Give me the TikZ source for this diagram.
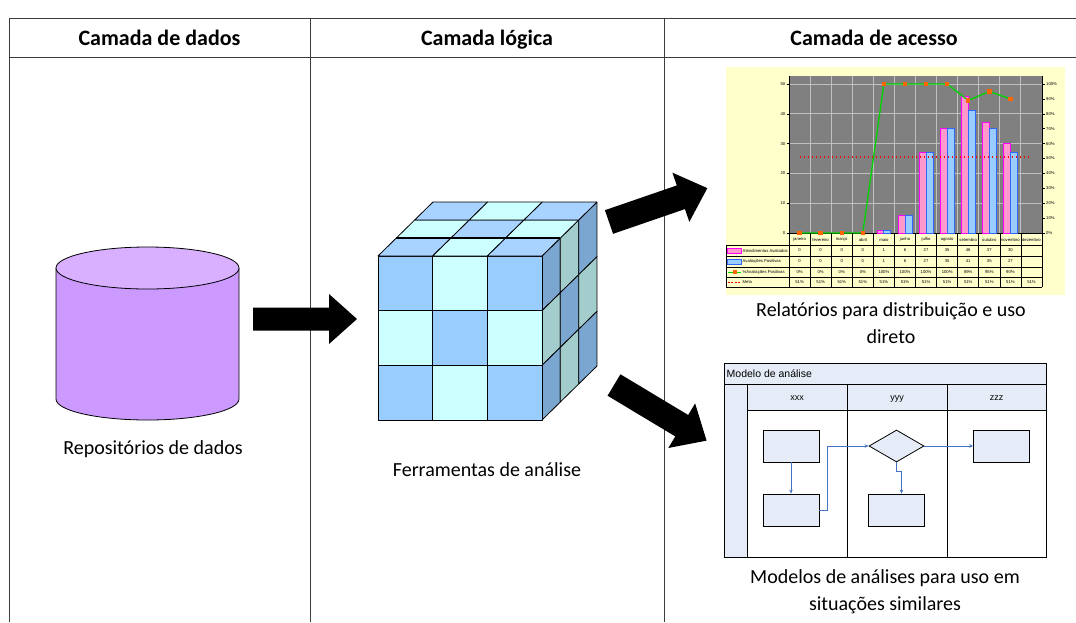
\documentclass[tikz,border=0pt]{standalone}
\usepackage{fontspec}
\setmainfont{Carlito}
\newfontfamily\chartfont{Liberation Sans}
\usetikzlibrary{shapes.geometric,arrows.meta}

\definecolor{cylbody}{RGB}{204,153,255}
\definecolor{cyltop}{RGB}{216,176,255}
\definecolor{cubeblue}{RGB}{153,204,255}
\definecolor{cubecyan}{RGB}{204,255,255}
\definecolor{topblue}{RGB}{168,210,255}
\definecolor{sidedark}{RGB}{122,166,208}
\definecolor{sideteal}{RGB}{163,204,204}
\definecolor{chartbg}{RGB}{255,255,204}
\definecolor{plotgray}{RGB}{128,128,128}
\definecolor{gridgray}{RGB}{192,192,192}
\definecolor{barpink}{RGB}{255,153,204}
\definecolor{barpinkedge}{RGB}{255,0,255}
\definecolor{barblue}{RGB}{153,204,255}
\definecolor{barblueedge}{RGB}{51,102,255}
\definecolor{pctgreen}{RGB}{0,210,0}
\definecolor{markorange}{RGB}{255,102,0}
\definecolor{swimfill}{RGB}{230,236,247}
\definecolor{flowblue}{RGB}{68,114,196}
\definecolor{framegray}{RGB}{60,60,60}

\tikzset{
  frame/.style={draw=framegray,line width=0.8pt},
  head/.style={font=\fontsize{22}{26}\selectfont\bfseries,inner sep=0pt,anchor=base},
  body/.style={font=\fontsize{20}{27}\selectfont,align=center,inner sep=0pt},
  blockarrow/.style={fill=black},
  cubeline/.style={draw=black,line width=0.8pt,line join=round},
  tinytext/.style={font=\chartfont\fontsize{4.2}{5}\selectfont,inner sep=0pt},
  pinkbar/.style={fill=barpink,draw=barpinkedge,line width=0.8pt},
  bluebar/.style={fill=barblue,draw=barblueedge,line width=0.8pt},
  pctline/.style={draw=pctgreen,line width=1.3pt,line join=round},
  metaline/.style={draw=red,line width=1.4pt,dash pattern=on 1.4pt off 2.6pt},
  tablerule/.style={draw=black,line width=0.6pt},
  swim/.style={draw=black,line width=0.9pt},
  fbox/.style={draw=black,line width=0.8pt,fill=swimfill,minimum width=56pt,minimum height=32pt,inner sep=0pt},
  fdiamond/.style={diamond,draw=black,line width=0.8pt,fill=swimfill,aspect=1.72,minimum width=55pt,minimum height=32pt,inner sep=0pt},
  flow/.style={draw=flowblue,line width=0.8pt,-{Stealth[length=4pt,width=3.5pt]}},
  swimlabel/.style={font=\chartfont\fontsize{10.5}{12}\selectfont,inner sep=0pt},
  lanelabel/.style={font=\chartfont\fontsize{9}{11}\selectfont,inner sep=0pt,anchor=base}
}

\begin{document}
\begin{tikzpicture}[x=1pt,y=-1pt]
\useasboundingbox (0,0) rectangle (1076,622);

% ---------- three-column frame with headings ----------
\draw[frame] (9,622) -- (9,18) -- (1076,18);
\draw[frame] (9,57) -- (1076,57);
\draw[frame] (310,18) -- (310,622);
\draw[frame] (664,18) -- (664,622);
\node[head] (hdados) at (159.5,45.5) {Camada de dados};
\node[head] (hlogica) at (487,45.5) {Camada lógica};
\node[head] (hacesso) at (874,45.5) {Camada de acesso};

% ---------- data repository (cylinder) ----------
\fill[cylbody] (56,268) -- (56,399) arc[start angle=180,end angle=360,x radius=91.5pt,y radius=21pt] -- (239,268) -- cycle;
\draw[line width=0.8pt] (56,268) -- (56,399) arc[start angle=180,end angle=360,x radius=91.5pt,y radius=21pt] -- (239,268);
\filldraw[fill=cyltop,draw=black,line width=0.8pt] (147.5,268) ellipse[x radius=91.5pt,y radius=21pt];
\node[body] (repo) at (153,449) {Repositórios de dados};

% ---------- block arrows ----------
\fill[blockarrow,shift={(253,319)}] (0,-11.5) -- (76,-11.5) -- (76,-25) -- (104,0) -- (76,25) -- (76,11.5) -- (0,11.5) -- cycle;
\fill[blockarrow,shift={(609,222)},rotate=19] (0,-12.5) -- (76,-12.5) -- (76,-26) -- (104,0) -- (76,26) -- (76,12.5) -- (0,12.5) -- cycle;
\fill[blockarrow,shift={(614,385)},rotate=-31] (0,-12.5) -- (79,-12.5) -- (79,-26) -- (108,0) -- (79,26) -- (79,12.5) -- (0,12.5) -- cycle;

% ---------- analysis cube ----------
\def\s{54.67}
\def\dx{18.33}
\def\dy{18}
\foreach \r in {0,1,2}{
  \foreach \c in {0,1,2}{
    \pgfmathtruncatemacro\cpar{mod(\r+\c,2)}
    \ifnum\cpar=0 \def\cf{cubeblue}\def\tf{topblue}\def\sf{sidedark}\else\def\cf{cubecyan}\def\tf{cubecyan}\def\sf{sideteal}\fi
    % front face
    \filldraw[cubeline,fill=\cf] ({378+\c*\s},{256+\r*\s}) rectangle ++(\s,\s);
    % top face (\r = depth)
    \filldraw[cubeline,fill=\tf] ({378+\c*\s+\r*\dx},{256-\r*\dy}) -- ++(\s,0) -- ++(\dx,-\dy) -- ++(-\s,0) -- cycle;
    % right face (\c = depth, \r = row)
    \filldraw[cubeline,fill=\sf] ({542+\c*\dx},{256+\r*\s-\c*\dy}) -- ++(\dx,-\dy) -- ++(0,\s) -- ++(-\dx,\dy) -- cycle;
  }
}
\draw[line width=1.6pt] (396.33,238) -- (560.33,238);
\node[body] (tools) at (487,470) {Ferramentas de análise};

% ---------- report chart ----------
\fill[chartbg] (726,67) rectangle (1065,295);
\fill[plotgray] (789,76) rectangle (1042,233);
\foreach \v in {10,20,...,50}
  \draw[gridgray,line width=0.9pt] (789,{233-\v*2.98}) -- (1042,{233-\v*2.98});
\foreach \i in {1,...,11}
  \draw[gridgray,line width=0.9pt] ({789+\i*21.083},76) -- ({789+\i*21.083},233);
\draw[black,line width=0.6pt] (789,76) -- (789,233) -- (1042,233) -- (1042,76);
\foreach \v in {0,10,...,50}{
  \draw[black,line width=0.5pt] (786.5,{233-\v*2.98}) -- (789,{233-\v*2.98});
  \node[tinytext,anchor=east] (yl\v) at (785.5,{233-\v*2.98}) {\v};
}
\foreach \v in {0,10,...,100}{
  \draw[black,line width=0.5pt] (1042,{233-\v*1.49}) -- (1044.5,{233-\v*1.49});
  \node[tinytext,anchor=west] (yr\v) at (1046,{233-\v*1.49}) {\v\%};
}
% bars
\foreach \i/\p/\b in {4/1/1,5/6/6,6/27/27,7/35/35,8/46/41,9/37/35,10/30/27}{
  \pgfmathsetmacro\xa{789+(\i+0.17)*21.083}
  \pgfmathsetmacro\xb{789+(\i+0.5)*21.083}
  \pgfmathsetmacro\xc{789+(\i+0.83)*21.083}
  \filldraw[pinkbar] (\xa,233) rectangle (\xb,{233-\p*2.98});
  \filldraw[bluebar] (\xb,233) rectangle (\xc,{233-\b*2.98});
}
% target line
\draw[metaline] (799.54,157) -- (1031.46,157);
% share of positive evaluations
\draw[pctline] (799.54,233) -- (820.62,233) -- (841.71,233) -- (862.79,233) -- (883.87,84) -- (904.96,84) -- (926.04,84) -- (947.12,84) -- (968.21,100.4) -- (989.29,91.45) -- (1010.37,98.9);
\foreach \x/\y in {799.54/233,820.62/233,841.71/233,862.79/233,883.87/84,904.96/84,926.04/84,947.12/84,968.21/100.4,989.29/91.45,1010.37/98.9}
  \fill[markorange] ({\x-2.2},{\y-2.2}) rectangle ({\x+2.2},{\y+2.2});

% data table under the chart
\foreach \i in {0,...,12}
  \draw[tablerule] ({789+\i*21.083},233) -- ({789+\i*21.083},287);
\draw[tablerule] (726,245) -- (726,287);
\foreach \y in {245,256,267,277,287}
  \draw[tablerule] (726,\y) -- (1042,\y);
\foreach \m [count=\i from 0] in {janeiro,fevereiro,março,abril,maio,junho,julho,agosto,setembro,outubro,novembro,dezembro}
  \node[tinytext] (mo\i) at ({799.54+\i*21.083},239.5) {\m};
\foreach \v [count=\i from 0] in {0,0,0,0,1,6,27,35,46,37,30}
  \node[tinytext] (ra\i) at ({799.54+\i*21.083},250.5) {\v};
\foreach \v [count=\i from 0] in {0,0,0,0,1,6,27,35,41,35,27}
  \node[tinytext] (rb\i) at ({799.54+\i*21.083},261.5) {\v};
\foreach \v [count=\i from 0] in {0,0,0,0,100,100,100,100,89,95,90}
  \node[tinytext] (rc\i) at ({799.54+\i*21.083},272) {\v\%};
\foreach \i in {0,...,11}
  \node[tinytext] (rd\i) at ({799.54+\i*21.083},282) {51\%};
% legend keys
\filldraw[pinkbar] (727.5,248) rectangle (741,253);
\node[tinytext,anchor=west] (leg1) at (742.5,250.5) {Atendimentos Avaliados};
\filldraw[bluebar] (727.5,259) rectangle (741,264);
\node[tinytext,anchor=west] (leg2) at (742.5,261.5) {Avaliações Positivas};
\draw[pctline,line width=1pt] (727.5,272) -- (741,272);
\fill[markorange] (732.5,270) rectangle (736.5,274);
\node[tinytext,anchor=west] (leg3) at (742.5,272) {\%Avaliações Positivas};
\draw[red,line width=0.7pt,dash pattern=on 2pt off 1.5pt] (727.5,282) -- (741,282);
\node[tinytext,anchor=west] (leg4) at (742.5,282) {Meta};

\node[body] (reports) at (891,323.5) {Relatórios para distribuição e uso\\direto};

% ---------- swimlane analysis model ----------
\fill[swimfill] (724,363) rectangle (1046,384);
\fill[swimfill] (724,384) rectangle (747,557);
\fill[swimfill] (747,384) rectangle (1046,410);
\draw[swim] (724,363) rectangle (1046,557);
\draw[swim] (724,384) -- (1046,384);
\draw[swim] (747,410) -- (1046,410);
\draw[swim] (747,384) -- (747,557);
\draw[swim] (847,384) -- (847,557);
\draw[swim] (947,384) -- (947,557);
\node[swimlabel,anchor=west] (mtitle) at (726.5,373.5) {Modelo de análise};
\node[lanelabel] (lx) at (797,400) {xxx};
\node[lanelabel] (ly) at (897,400) {yyy};
\node[lanelabel] (lz) at (996.5,400) {zzz};

\node[fbox] (b1) at (791,446) {};
\node[fbox] (b2) at (791,510) {};
\node[fdiamond] (d) at (896.5,446) {};
\node[fbox] (b3) at (896.5,510) {};
\node[fbox] (b4) at (1001.5,446) {};

\draw[flow] (b1.south) -- (b2.north);
\draw[flow] (b2.east) -- ++(8,0) |- (d.west);
\draw[flow] (d.south) -- ++(0,9) -| ([xshift=5pt]b3.north);
\draw[flow] (d.east) -- (b4.west);

\node[body] (models) at (885,592) {Modelos de análises para uso em\\situações similares};
\end{tikzpicture}
\end{document}
